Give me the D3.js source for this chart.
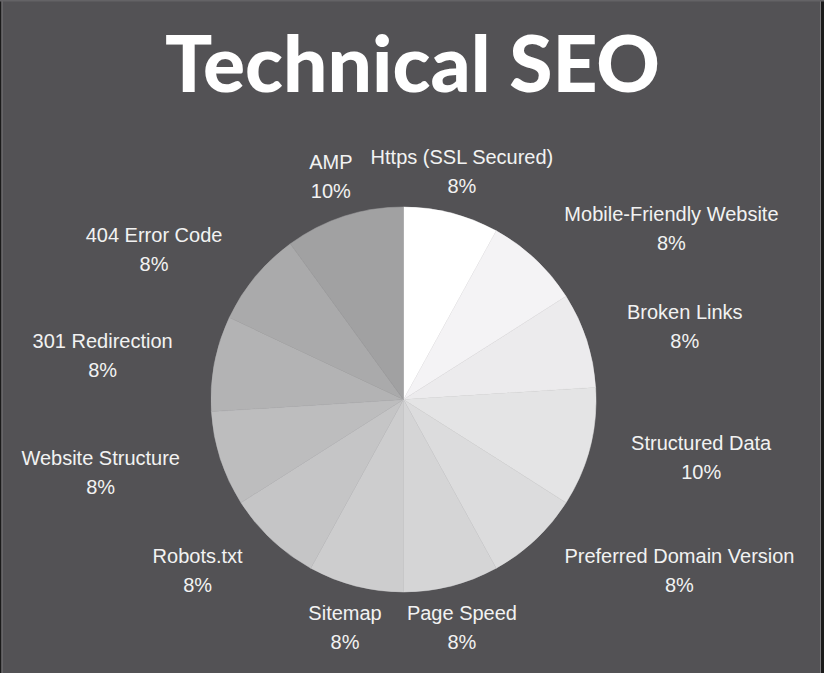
<!DOCTYPE html>
<html>
<head>
<meta charset="utf-8">
<script src="https://cdn.jsdelivr.net/npm/d3@7"></script>
<style>
  html, body { margin: 0; padding: 0; background: #535255; }
  svg { display: block; }
</style>
</head>
<body>
<svg id="chart" width="824" height="673"></svg>
<script>
// ---- data ----
const categories = [
  "Https (SSL Secured)", "Mobile-Friendly Website", "Broken Links", "Structured Data",
  "Preferred Domain Version", "Page Speed", "Sitemap", "Robots.txt",
  "Website Structure", "301 Redirection", "404 Error Code", "AMP"
];
const values = [8, 8, 8, 10, 8, 8, 8, 8, 8, 8, 8, 10];
const sliceColors = [
  "#ffffff", "#f4f3f5", "#ecebed", "#e4e4e5", "#dcdcdd", "#d5d5d6",
  "#cdcdce", "#c5c5c6", "#bdbdbe", "#b3b3b4", "#aaaaab", "#a1a1a2"
];
const title = "Technical SEO";

// ---- layout ----
const W = 824, H = 673;
const cx = 403.5, cy = 399.5, R = 192.5, labelR = 235;
const svg = d3.select("#chart");

svg.append("rect").attr("width", W).attr("height", H).attr("fill", "#535255");
// thin frame like the screenshot
svg.append("rect").attr("x", 0).attr("y", 0).attr("width", 1.5).attr("height", H).attr("fill", "#1a1a1a");
svg.append("rect").attr("x", 1.5).attr("y", 0).attr("width", 1).attr("height", H).attr("fill", "#7a797c");
svg.append("rect").attr("x", W - 3).attr("y", 0).attr("width", 3).attr("height", H).attr("fill", "#1a1a1a");
svg.append("rect").attr("x", W - 4).attr("y", 0).attr("width", 1).attr("height", H).attr("fill", "#7a797c");
svg.append("rect").attr("x", 0).attr("y", 0).attr("width", W).attr("height", 1.5).attr("fill", "#646366");

// ---- title ----
const t = svg.append("text")
  .attr("x", 412.5).attr("y", 92)
  .attr("text-anchor", "middle")
  .attr("fill", "#ffffff")
  .style("font-family", "Lato, 'Open Sans', sans-serif")
  .style("font-weight", 900)
  .style("font-size", "76px")
  .text(title);
const tw = t.node().getComputedTextLength();
t.style("font-size", (76 * 495 / tw) + "px");

// ---- pie ----
const data = categories.map((c, i) => ({ name: c, value: values[i], color: sliceColors[i] }));
const pie = d3.pie().value(d => d.value).sort(null);
const arcs = pie(data);
const arc = d3.arc().innerRadius(0).outerRadius(R);

const g = svg.append("g").attr("transform", `translate(${cx},${cy})`);
g.selectAll("path.slice")
  .data(arcs)
  .join("path")
  .attr("class", "slice")
  .attr("d", arc)
  .attr("fill", d => d.data.color)
  .attr("stroke", d => d.data.color)
  .attr("stroke-width", 0.5);

// ---- labels (two centred lines, block anchored on the slice's mid-angle) ----
const total = d3.sum(values);
const lab = g.selectAll("g.label")
  .data(arcs)
  .join("g")
  .attr("class", "label")
  .attr("text-anchor", "middle")
  .style("font-family", "'Liberation Sans', Arial, sans-serif")
  .style("font-size", "20px")
  .attr("fill", "#f2f2f2");

const l1 = lab.append("text")
  .attr("y", -14.5)
  .attr("dominant-baseline", "central")
  .text(d => d.data.name);
const l2 = lab.append("text")
  .attr("y", 14.5)
  .attr("dominant-baseline", "central")
  .text(d => Math.round(d.data.value / total * 100) + "%");

lab.attr("transform", function(d) {
  const a = (d.startAngle + d.endAngle) / 2;
  const s = Math.sin(a);
  const texts = d3.select(this).selectAll("text").nodes();
  const bw = d3.max(texts, n => n.getComputedTextLength());
  let x = labelR * s;
  const y = -labelR * Math.cos(a);
  if (Math.abs(s) >= 0.5) x += (s > 0 ? 1 : -1) * bw / 2;
  return `translate(${x},${y})`;
});
</script>
</body>
</html>
